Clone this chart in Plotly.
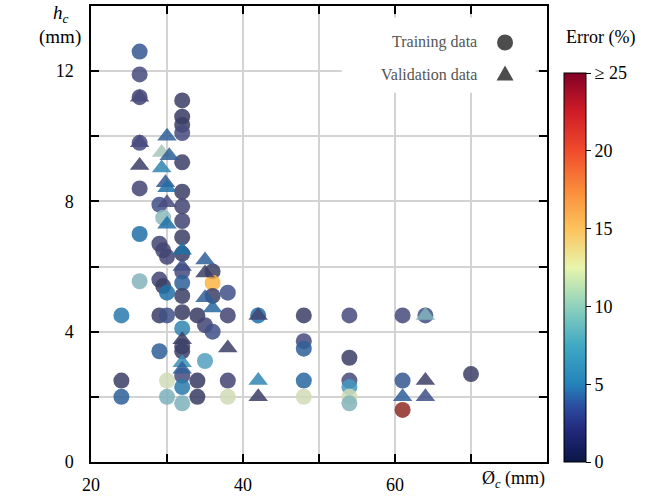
import plotly.graph_objects as go

# ---------------- data ----------------
# Training data (circles): diameter Øc (mm), height hc (mm), error (%)
train_x = ([24] * 3 + [26.4] * 7 + [29] * 5 + [29.5] * 3 + [30] * 5 + [32] * 20 +
           [34] * 3 + [35] * 2 + [36] * 4 + [38] * 4 + [42] * 1 + [48] * 5 +
           [54] * 6 + [61] * 3 + [64] * 1 + [70] * 1)
train_y = [4.5, 2.5, 2.0,
           12.6, 11.9, 11.2, 9.8, 8.4, 7.0, 5.55,
           7.9, 6.7, 5.6, 4.5, 3.4,
           7.5, 6.5, 5.4,
           6.3, 5.2, 4.5, 2.5, 2.0,
           11.1, 10.6, 10.35, 10.1, 9.2, 8.3, 7.85, 7.4, 6.9, 6.4,
           5.85, 5.5, 5.1, 4.6, 4.1, 3.55, 3.4, 2.65, 2.3, 1.8,
           4.5, 2.5, 2.0,
           4.2, 3.1,
           5.85, 5.5, 5.1, 4.0,
           5.2, 4.5, 2.5, 2.0,
           4.5,
           4.5, 3.71, 3.48, 2.5, 2.0,
           4.5, 3.2, 2.5, 2.3, 2.0, 1.8,
           4.5, 2.5, 1.6,
           4.5,
           2.7]
train_err = [5.5, 1.5, 4.0,
             3.5, 2.5, 2.0, 2.5, 2.0, 5.0, 9.5,
             3.0, 2.0, 2.0, 1.5, 4.0,
             10.0, 2.0, 1.5,
             2.0, 5.0, 3.0, 12.0, 9.0,
             1.5, 1.0, 1.5, 2.5, 1.5, 1.5, 2.0, 2.0, 1.5, 1.5,
             2.5, 4.0, 1.5, 1.0, 6.0, 2.0, 1.5, 2.5, 5.5, 9.0,
             1.0, 1.0, 1.0,
             2.0, 7.5,
             1.5, 15.5, 1.5, 3.0,
             3.0, 2.0, 2.0, 12.0,
             5.0,
             1.5, 2.5, 4.0, 4.5, 12.0,
             2.5, 1.5, 2.5, 7.0, 12.0, 9.5,
             2.5, 3.5, 23.0,
             3.0,
             1.5]

# Validation data (triangles)
valid_x = ([26.4] * 3 + [30, 29.3, 30.3, 29.3, 29.8, 30, 30, 30] + [32] * 5 +
           [35] * 3 + [36] + [38] + [42] * 3 + [61] + [64] * 3)
valid_y = [11.2, 9.8, 9.1,
           10.0, 9.5, 9.4, 9.03, 8.57, 8.42, 7.96, 7.3,
           6.5, 6.0, 3.75, 3.05, 2.85,
           6.2, 5.8, 5.04,
           4.73,
           3.5,
           4.5, 2.5, 2.0,
           2.0,
           4.5, 2.5, 2.0]
valid_err = [2.5, 2.5, 1.5,
             4.0, 11.0, 4.0, 6.0, 3.5, 5.0, 2.5, 5.0,
             5.0, 3.0, 1.5, 6.5, 4.0,
             4.0, 1.5, 4.0,
             4.5,
             1.5,
             2.0, 6.0, 1.5,
             4.0,
             9.5, 1.5, 3.0]

assert len(train_x) == len(train_y) == len(train_err)
assert len(valid_x) == len(valid_y) == len(valid_err)

x_tick_vals = [20, 40, 60]
x_tick_text = ["20", "40", "60"]
y_tick_vals = [0, 4, 8, 12]
y_tick_text = ["0", "4", "8", "12"]
cb_tick_vals = [0, 5, 10, 15, 20, 25]
cb_tick_text = ["0", "5", "10", "15", "20", "\u2265 25"]

FONT = "Liberation Serif"

# colour bar scale (as drawn in the colour bar)
bar_scale = [
    [0.00, "#0b1646"],
    [0.08, "#22287a"],
    [0.14, "#2b4a9e"],
    [0.20, "#2383ba"],
    [0.30, "#40a9c4"],
    [0.40, "#8fd1bd"],
    [0.50, "#e8f5ab"],
    [0.60, "#fdc25c"],
    [0.70, "#fa8b3a"],
    [0.80, "#ef4b2c"],
    [0.90, "#d01c27"],
    [1.00, "#820026"],
]
# muted version used for the translucent markers
marker_scale = [
    [0.00, "#33365c"],
    [0.06, "#3b3e65"],
    [0.10, "#484a7e"],
    [0.14, "#365690"],
    [0.20, "#1f70a6"],
    [0.28, "#4499be"],
    [0.36, "#7bb0bb"],
    [0.42, "#93bcbc"],
    [0.48, "#d0dbb5"],
    [0.62, "#fdb544"],
    [0.80, "#c8442a"],
    [0.92, "#8f2a24"],
    [1.00, "#6a0b1e"],
]

fig = go.Figure()
fig.add_trace(go.Scatter(
    x=train_x, y=train_y, mode="markers", name="Training data",
    marker=dict(symbol="circle", size=16, color=train_err, coloraxis="coloraxis2",
                opacity=0.85, line=dict(width=0)),
    showlegend=False))
fig.add_trace(go.Scatter(
    x=valid_x, y=valid_y, mode="markers", name="Validation data",
    marker=dict(symbol="triangle-up", size=17, color=valid_err, coloraxis="coloraxis2",
                opacity=0.85, line=dict(width=0)),
    showlegend=False))
# invisible trace carrying the colour bar
fig.add_trace(go.Scatter(
    x=[None], y=[None], mode="markers", showlegend=False, hoverinfo="skip",
    marker=dict(color=[0], coloraxis="coloraxis")))

fig.update_layout(
    width=649, height=502,
    margin=dict(l=91, r=102, t=6, b=40, autoexpand=False),
    paper_bgcolor="white", plot_bgcolor="white",
    font=dict(family=FONT, size=18, color="black"),
    coloraxis=dict(
        colorscale=bar_scale, cmin=0, cmax=25,
        colorbar=dict(
            x=1.037, xanchor="left", xref="paper", xpad=0, ypad=0,
            y=0, yanchor="bottom", len=0.853, lenmode="fraction",
            thickness=22, outlinewidth=1, outlinecolor="black",
            tickvals=cb_tick_vals, ticktext=cb_tick_text,
            ticks="outside", ticklen=5, tickcolor="black", tickwidth=1,
            tickfont=dict(family=FONT, size=18, color="black"),
        ),
    ),
    coloraxis2=dict(colorscale=marker_scale, cmin=0, cmax=25, showscale=False),
    xaxis=dict(
        range=[20, 80], tickmode="array", tickvals=x_tick_vals, ticktext=x_tick_text,
        showgrid=True, gridcolor="#d3d3d3", gridwidth=1.5,
        minor=dict(dtick=10, tick0=20, ticks="inside", ticklen=8, tickcolor="black",
                   tickwidth=1.5, showgrid=True, gridcolor="#d3d3d3", gridwidth=1.5),
        showline=True, linecolor="black", linewidth=1.5, mirror="ticks",
        ticks="inside", ticklen=8, tickcolor="black", tickwidth=1.5,
        zeroline=False, ticklabelstandoff=6,
        tickfont=dict(family=FONT, size=18),
    ),
    yaxis=dict(
        range=[0, 14], tickmode="array", tickvals=y_tick_vals, ticktext=y_tick_text,
        showgrid=True, gridcolor="#d3d3d3", gridwidth=1.5,
        minor=dict(dtick=2, tick0=0, ticks="inside", ticklen=8, tickcolor="black",
                   tickwidth=1.5, showgrid=True, gridcolor="#d3d3d3", gridwidth=1.5),
        showline=True, linecolor="black", linewidth=1.5, mirror="ticks",
        ticks="inside", ticklen=8, tickcolor="black", tickwidth=1.5,
        zeroline=False, ticklabelstandoff=12,
        tickfont=dict(family=FONT, size=18),
    ),
)

# legend box (white background over gridlines)
fig.add_shape(type="rect", xref="paper", yref="paper",
              x0=0.55, x1=0.975, y0=0.81, y1=0.975,
              fillcolor="white", line=dict(width=0), layer="above")
fig.add_annotation(xref="paper", yref="paper", x=0.85, y=0.92, xanchor="right", yanchor="middle",
                   text="Training data", showarrow=False,
                   font=dict(family=FONT, size=16, color="#555555"))
fig.add_annotation(xref="paper", yref="paper", x=0.85, y=0.85, xanchor="right", yanchor="middle",
                   text="Validation data", showarrow=False,
                   font=dict(family=FONT, size=16, color="#555555"))
fig.add_shape(type="circle", xref="paper", yref="paper",
              xsizemode="pixel", ysizemode="pixel",
              xanchor=0.908, yanchor=0.92, x0=-8, x1=8, y0=-8, y1=8,
              fillcolor="#4d4d4d", line=dict(width=0), layer="above")
fig.add_shape(type="path", xref="paper", yref="paper",
              xsizemode="pixel", ysizemode="pixel",
              xanchor=0.908, yanchor=0.852,
              path="M -8.5,-7 L 8.5,-7 L 0,8 Z",
              fillcolor="#4d4d4d", line=dict(width=0), layer="above")

# axis titles
fig.add_annotation(xref="paper", yref="paper", x=-0.066, y=0.982, xanchor="center", yanchor="middle",
                   text="<i>h</i><sub><i>c</i></sub>", showarrow=False,
                   font=dict(family=FONT, size=19, color="black"))
fig.add_annotation(xref="paper", yref="paper", x=-0.068, y=0.932, xanchor="center", yanchor="middle",
                   text="(mm)", showarrow=False,
                   font=dict(family=FONT, size=19, color="black"))
fig.add_annotation(xref="paper", yref="paper", x=1.0, y=0, xanchor="right", yanchor="top",
                   yshift=-4, text="\u00d8<sub><i>c</i></sub> (mm)", showarrow=False,
                   font=dict(family=FONT, size=18, color="black"))
fig.add_annotation(xref="paper", yref="paper", x=1.037, y=0.932, xanchor="left", yanchor="middle",
                   text="Error (%)", showarrow=False,
                   font=dict(family=FONT, size=18, color="black"))

fig.write_html("out.html")
